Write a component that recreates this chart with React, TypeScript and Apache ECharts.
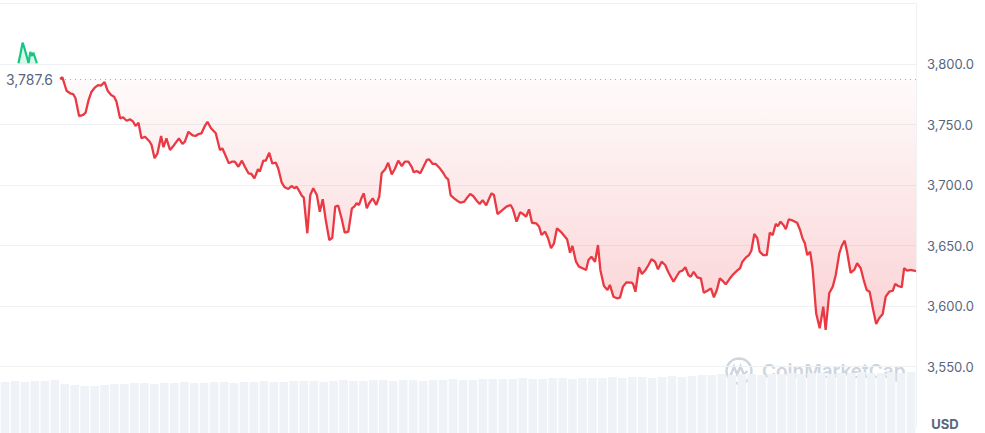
import { useEffect, useRef } from 'react';
import * as echarts from 'echarts';

// time in minutes since the open of the 24h window
const minutes = [
  0, 4, 11, 17, 22, 26, 32, 39, 43, 48,
  53, 59, 64, 69, 75, 80, 86, 91, 95, 101,
  106, 112, 118, 123, 127, 132, 137, 143, 151, 154,
  159, 164, 170, 174, 179, 185, 192, 200, 206, 210,
  216, 223, 228, 233, 238, 243, 248, 254, 262, 269,
  273, 278, 284, 289, 294, 300, 306, 311, 317, 322,
  327, 333, 336, 342, 346, 352, 357, 363, 367, 373,
  378, 384, 390, 394, 398, 403, 407, 410, 416, 421,
  426, 432, 437, 442, 447, 453, 458, 463, 468, 474,
  479, 485, 491, 495, 499, 503, 507, 511, 516, 520,
  526, 532, 537, 541, 547, 552, 558, 563, 569, 575,
  580, 586, 592, 595, 600, 606, 611, 617, 621, 627,
  632, 639, 645, 649, 653, 657, 663, 668, 674, 680,
  684, 690, 695, 701, 706, 711, 717, 722, 726, 730,
  736, 743, 751, 758, 762, 768, 774, 779, 784, 789,
  794, 801, 806, 810, 816, 821, 826, 831, 836, 844,
  853, 858, 862, 868, 873, 879, 885, 889, 894, 900,
  905, 909, 915, 921, 925, 931, 937, 942, 947, 953,
  962, 964, 968, 974, 979, 985, 990, 995, 1001, 1006,
  1012, 1018, 1023, 1032, 1037, 1042, 1047, 1052, 1057, 1061,
  1066, 1072, 1078, 1083, 1089, 1095, 1100, 1105, 1110, 1116,
  1120, 1127, 1133, 1139, 1144, 1148, 1154, 1159, 1163, 1168,
  1173, 1177, 1183, 1189, 1194, 1199, 1204, 1208, 1212, 1217,
  1221, 1226, 1233, 1240, 1245, 1249, 1253, 1257, 1262, 1266,
  1272, 1278, 1284, 1288, 1294, 1300, 1305, 1311, 1315, 1320,
  1324, 1330, 1336, 1341, 1347, 1352, 1357, 1362, 1368, 1373,
  1378, 1384, 1389, 1395, 1401, 1405, 1410, 1416, 1420, 1425,
  1431, 1440,
];

const prices = [
  3787.6, 3789.0, 3777.9, 3775.8, 3775.2, 3771.7, 3757.0, 3757.9, 3759.8, 3770.2,
  3777.1, 3780.7, 3782.6, 3782.1, 3785.1, 3777.9, 3774.4, 3773.0, 3768.8, 3755.1,
  3756.0, 3753.1, 3754.3, 3752.3, 3748.8, 3751.5, 3738.6, 3739.9, 3735.8, 3733.1,
  3722.1, 3726.2, 3740.5, 3731.2, 3738.6, 3728.9, 3733.1, 3738.6, 3733.9, 3735.8,
  3744.0, 3741.1, 3740.5, 3742.1, 3742.7, 3748.2, 3752.3, 3746.9, 3742.7, 3728.9,
  3730.3, 3724.8, 3717.9, 3719.3, 3719.3, 3715.1, 3720.1, 3715.1, 3709.7, 3709.1,
  3705.5, 3713.0, 3711.0, 3720.1, 3720.1, 3726.7, 3717.9, 3718.4, 3713.8, 3701.9,
  3698.1, 3696.7, 3699.2, 3697.3, 3698.6, 3694.5, 3690.9, 3689.8, 3660.1, 3691.7,
  3697.3, 3691.7, 3677.9, 3688.2, 3671.1, 3654.5, 3656.4, 3682.1, 3682.9, 3671.7,
  3660.6, 3661.4, 3680.7, 3682.1, 3684.9, 3683.5, 3689.0, 3693.1, 3680.7, 3684.9,
  3689.0, 3683.5, 3690.3, 3709.7, 3713.0, 3718.4, 3708.8, 3713.0, 3720.1, 3715.7,
  3719.3, 3719.3, 3714.6, 3710.5, 3711.6, 3709.7, 3714.6, 3720.7, 3721.2, 3717.4,
  3717.4, 3713.8, 3709.7, 3706.4, 3704.7, 3691.7, 3689.0, 3687.0, 3685.4, 3686.2,
  3689.0, 3692.6, 3690.9, 3687.0, 3684.3, 3687.5, 3683.2, 3689.0, 3693.1, 3691.7,
  3676.0, 3678.8, 3682.1, 3683.5, 3679.9, 3669.7, 3677.4, 3676.0, 3673.8, 3679.9,
  3668.8, 3668.3, 3665.5, 3658.7, 3661.4, 3656.0, 3647.7, 3651.8, 3664.2, 3660.6,
  3655.1, 3644.1, 3649.6, 3636.6, 3632.5, 3631.2, 3629.8, 3638.0, 3640.7, 3636.6,
  3650.4, 3629.8, 3616.5, 3613.2, 3617.4, 3607.7, 3606.4, 3606.9, 3616.0, 3619.6,
  3619.3, 3618.2, 3611.8, 3632.0, 3626.4, 3629.8, 3633.9, 3638.6, 3636.6, 3630.3,
  3636.6, 3633.9, 3628.3, 3620.1, 3624.2, 3628.3, 3629.2, 3632.0, 3625.6, 3624.2,
  3628.3, 3623.7, 3622.9, 3611.0, 3612.6, 3614.6, 3607.2, 3613.2, 3622.9, 3620.1,
  3617.9, 3622.9, 3626.4, 3629.2, 3631.2, 3636.6, 3640.2, 3642.1, 3645.7, 3659.5,
  3656.0, 3644.9, 3642.1, 3642.1, 3660.6, 3658.7, 3667.8, 3666.1, 3669.7, 3666.9,
  3663.4, 3671.7, 3670.5, 3668.8, 3662.8, 3656.0, 3651.8, 3642.1, 3644.9, 3631.2,
  3594.0, 3581.6, 3599.4, 3580.2, 3610.5, 3616.0, 3625.6, 3643.6, 3649.6, 3654.0,
  3644.9, 3627.5, 3629.8, 3635.3, 3631.2, 3621.5, 3613.2, 3611.8, 3596.7, 3585.1,
  3589.8, 3593.4, 3607.7, 3611.8, 3612.6, 3618.2, 3616.5, 3615.5, 3631.2, 3629.2,
  3629.8, 3628.9,
];

// small green fragment before the window open
const preMinutes = [-70, -67, -63, -59, -53, -50, -47, -45, -39];
const prePrices = [3800.6, 3807.4, 3817.6, 3811.6, 3800.8, 3809.9, 3806.6, 3809.5, 3800.6];

// volume band (relative units)
const volumes = [
  51, 52, 51, 52, 52, 53,
  49, 48, 47, 47, 48, 49,
  49, 50, 50, 49, 50, 50, 51, 50,
  50, 51, 51, 50, 51, 51, 52, 51, 51, 52,
  52, 52, 51, 52, 53, 52, 52, 53, 53, 52,
  53, 53, 52, 53, 53, 54, 53, 53, 54, 54,
  54, 54, 55, 54, 54, 55, 55, 54, 55, 55,
  55, 56, 55, 56, 56, 55, 56, 57, 56, 57,
  58, 58, 59, 58, 59, 59, 58, 59, 59, 60,
  59, 60, 60, 59, 60, 60, 61, 60, 60, 61, 60, 61,
];

const openPrice = 3787.6;
const lastPrice = 3628.9;
const yMin = 3500;
const yMax = 3850;
const yStep = 50;
const hiddenTicks = [3500, 3850];
const currency = 'USD';
const brand = 'CoinMarketCap';

const FONT = 'Inter, "Noto Sans", sans-serif';
const GRAY = '#58667e';
const RED = '#ea3943';
const GREEN = '#16c784';
const GRID = '#eff2f5';

const fmt = (v: number) =>
  v.toLocaleString('en-US', { minimumFractionDigits: 1, maximumFractionDigits: 1 });

const logoPath =
  'M14 1.5a12.5 12.5 0 1 0 0 25a12.5 12.5 0 1 0 0-25z M5.5 19 L9 9.5 L12.2 17.5 L15.5 9.5 L18.8 17.5 L22.5 14';

export default function App() {
  const ref = useRef<HTMLDivElement>(null);

  useEffect(() => {
    if (!ref.current) return;
    try {
      echarts.graphic.registerShape('cmclogo', echarts.graphic.extendPath(logoPath, {}));
    } catch (e) {}
    const chart = echarts.init(ref.current, undefined, { renderer: 'svg' });

    const splitColors = [];
    for (let v = yMin; v <= yMax; v += yStep) {
      splitColors.push(v === yMin ? 'rgba(0,0,0,0)' : GRID);
    }

    chart.setOption({
      animation: false,
      textStyle: { fontFamily: FONT },
      grid: [
        { left: 0, right: 69, top: 3.5, bottom: 6, containLabel: false },
        { left: 0, right: 69, top: 333, bottom: 0, containLabel: false },
      ],
      xAxis: [
        {
          type: 'value',
          gridIndex: 0,
          min: -101,
          max: 1440,
          show: false,
        },
        {
          type: 'category',
          gridIndex: 1,
          data: volumes.map((_, i) => i),
          show: false,
          boundaryGap: true,
        },
      ],
      yAxis: [
        {
          type: 'value',
          gridIndex: 0,
          position: 'right',
          min: yMin,
          max: yMax,
          interval: yStep,
          axisLine: { show: true, onZero: false, lineStyle: { color: GRID, width: 1 } },
          axisTick: { show: false },
          splitLine: { show: true, lineStyle: { color: splitColors, width: 1 } },
          axisLabel: {
            color: GRAY,
            fontSize: 13,
            fontFamily: FONT,
            margin: 11,
            formatter: (v: number) => (hiddenTicks.includes(v) ? '' : fmt(v)),
          },
        },
        {
          type: 'value',
          gridIndex: 1,
          min: 0,
          max: 100,
          show: false,
        },
      ],
      series: [
        {
          type: 'bar',
          xAxisIndex: 1,
          yAxisIndex: 1,
          data: volumes,
          barCategoryGap: '14%',
          itemStyle: { color: '#eff2f6' },
          silent: true,
        },
        {
          type: 'line',
          xAxisIndex: 0,
          yAxisIndex: 0,
          data: preMinutes.map((m, i) => [m, prePrices[i]]),
          showSymbol: false,
          lineStyle: { color: GREEN, width: 2.2 },
          areaStyle: { origin: 3800, color: 'rgba(22,199,132,0.22)' },
          silent: true,
        },
        {
          type: 'line',
          xAxisIndex: 0,
          yAxisIndex: 0,
          data: minutes.map((m, i) => [m, prices[i]]),
          showSymbol: false,
          lineStyle: { color: RED, width: 2.3 },
          areaStyle: {
            origin: openPrice,
            color: new echarts.graphic.LinearGradient(0, 0, 0, 1, [
              { offset: 0, color: 'rgba(234,57,67,0.03)' },
              { offset: 1, color: 'rgba(234,57,67,0.32)' },
            ]),
          },
          markLine: {
            silent: true,
            symbol: ['none', 'none'],
            data: [
              [
                {
                  coord: [minutes[0], openPrice],
                  lineStyle: { color: '#a1abbd', type: [1, 4], width: 1.2 },
                  label: {
                    show: true,
                    position: 'start',
                    distance: 7,
                    formatter: fmt(openPrice),
                    color: GRAY,
                    fontSize: 14,
                    fontFamily: FONT,
                  },
                },
                { coord: [minutes[minutes.length - 1], openPrice] },
              ],
              {
                yAxis: lastPrice,
                lineStyle: { opacity: 0 },
                label: {
                  show: true,
                  position: 'end',
                  distance: 2,
                  formatter: fmt(lastPrice),
                  color: '#ffffff',
                  fontSize: 14,
                  fontWeight: 'bold',
                  fontFamily: FONT,
                  backgroundColor: RED,
                  borderRadius: 4,
                  padding: [7, 7, 7, 7],
                },
              },
            ],
          },
        },
      ],
      graphic: [
        {
          type: 'cmclogo',
          x: 725,
          y: 357,
          scaleX: 1,
          scaleY: 1,
          silent: true,
          style: { fill: 'none', stroke: '#cfd5de', lineWidth: 2.4 },
        },
        {
          type: 'text',
          x: 762,
          y: 371,
          silent: true,
          style: {
            text: brand,
            fill: '#cfd5de',
            font: `600 19px ${FONT}`,
            verticalAlign: 'middle',
          },
        },
        {
          type: 'text',
          x: 945,
          y: 424,
          silent: true,
          style: {
            text: currency,
            fill: GRAY,
            font: `bold 13px ${FONT}`,
            align: 'center',
            verticalAlign: 'middle',
          },
        },
      ],
    });

    return () => chart.dispose();
  }, []);

  return (
    <div
      ref={ref}
      style={{ position: 'fixed', left: 0, top: 0, width: 985, height: 433, background: '#fff' }}
    />
  );
}
